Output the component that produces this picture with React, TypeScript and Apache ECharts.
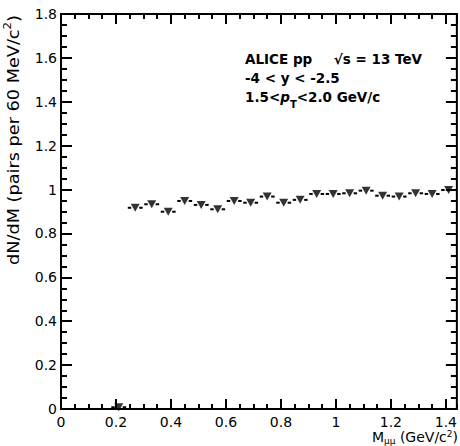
import React, { useEffect, useRef } from "react";
import * as echarts from "echarts";

// Dimuon invariant-mass bin centres (GeV/c^2), 60 MeV wide bins
const massBins = [
  0.21, 0.27, 0.33, 0.39, 0.45, 0.51, 0.57, 0.63, 0.69, 0.75, 0.81,
  0.87, 0.93, 0.99, 1.05, 1.11, 1.17, 1.23, 1.29, 1.35, 1.41,
];
// dN/dM in each bin
const dNdM = [
  0.008, 0.917, 0.933, 0.899, 0.948, 0.93, 0.91, 0.948, 0.94, 0.968, 0.94,
  0.953, 0.98, 0.98, 0.983, 0.995, 0.972, 0.968, 0.983, 0.98, 0.998,
];
const halfBinWidth = 0.03;

const xRange = [0, 1.44];
const yRange = [0, 1.8];
const majorStep = 0.2;
const minorStep = 0.05;

const FONT = '"DejaVu Sans", "Liberation Sans", Arial, sans-serif';

export default function App() {
  const ref = useRef<HTMLDivElement>(null);

  useEffect(() => {
    if (!ref.current) return;
    const chart = echarts.init(ref.current, null, { renderer: "svg" });

    const points = massBins.map((m, i) => [m, dNdM[i]]);

    const tickAxis = (
      dim: "x" | "y",
      position: string,
      interval: number,
      length: number,
      labels: boolean
    ) => {
      const range = dim === "x" ? xRange : yRange;
      return {
        type: "value",
        position,
        min: range[0],
        max: range[1],
        interval,
        axisLine: { show: false, onZero: false },
        axisTick: {
          show: true,
          inside: true,
          length,
          lineStyle: { color: "#000", width: 2 },
        },
        splitLine: { show: false },
        axisLabel: {
          show: labels,
          color: "#000",
          fontFamily: FONT,
          fontSize: 14,
          lineHeight: 14,
          margin: dim === "x" ? 6 : 4,
          showMaxLabel: dim === "x" ? false : true,
        },
      };
    };

    const boldText = (text: string, x: number, y: number, align = "left") => ({
      type: "text",
      x,
      y,
      style: {
        text,
        fontFamily: FONT,
        fontWeight: "bold",
        fontSize: 13.5,
        fill: "#000",
        align,
        verticalAlign: "middle",
      },
    });

    chart.setOption({
      animation: false,
      backgroundColor: "#fff",
      grid: {
        left: 61,
        top: 14,
        right: 2,
        bottom: 37,
        show: true,
        borderColor: "#000",
        borderWidth: 2,
        backgroundColor: "transparent",
      },
      xAxis: [
        tickAxis("x", "bottom", majorStep, 10, true),
        tickAxis("x", "bottom", minorStep, 5, false),
        tickAxis("x", "top", majorStep, 10, false),
        tickAxis("x", "top", minorStep, 5, false),
      ],
      yAxis: [
        tickAxis("y", "left", majorStep, 11, true),
        tickAxis("y", "left", minorStep, 6, false),
        tickAxis("y", "right", majorStep, 11, false),
        tickAxis("y", "right", minorStep, 6, false),
      ],
      graphic: [
        {
          type: "text",
          x: 12,
          y: 15,
          rotation: Math.PI / 2,
          scaleX: 1.18,
          style: {
            text: "{t|dN/dM (pairs per 60 MeV/c}{s|2}{t|)}",
            align: "right",
            verticalAlign: "middle",
            fill: "#000",
            rich: {
              t: { fontFamily: FONT, fontSize: 15, lineHeight: 18, verticalAlign: "bottom" },
              s: { fontFamily: FONT, fontSize: 10, lineHeight: 18, verticalAlign: "top" },
            },
          },
        },
        {
          type: "text",
          x: 458,
          y: 437,
          style: {
            text: "{t|M}{s|μμ}{t| (GeV/c}{p|2}{t|)}",
            align: "right",
            verticalAlign: "middle",
            fill: "#000",
            rich: {
              t: { fontFamily: FONT, fontSize: 14, lineHeight: 16, verticalAlign: "middle" },
              s: { fontFamily: FONT, fontSize: 9, lineHeight: 16, verticalAlign: "bottom" },
              p: { fontFamily: FONT, fontSize: 9, lineHeight: 16, verticalAlign: "top" },
            },
          },
        },
        boldText("ALICE pp", 245, 59),
        boldText("√s = 13 TeV", 422, 59, "right"),
        boldText("-4 < y < -2.5", 245, 78),
        {
          type: "text",
          x: 245,
          y: 97,
          style: {
            text: "{t|1.5<}{i|p}{s|T}{t|<2.0 GeV/c}",
            verticalAlign: "middle",
            fill: "#000",
            rich: {
              t: { fontFamily: FONT, fontWeight: "bold", fontSize: 13.5, lineHeight: 24, verticalAlign: "middle" },
              i: { fontFamily: FONT, fontWeight: "bold", fontStyle: "italic", fontSize: 13.5, lineHeight: 24, verticalAlign: "middle" },
              s: { fontFamily: FONT, fontWeight: "bold", fontSize: 10, lineHeight: 24, verticalAlign: "bottom" },
            },
          },
        },
      ],
      series: [
        {
          type: "custom",
          xAxisIndex: 0,
          yAxisIndex: 0,
          data: points,
          clip: false,
          renderItem: (params: any, api: any) => {
            const x = api.value(0);
            const y = api.value(1);
            const c = api.coord([x, y]);
            const lo = api.coord([x - halfBinWidth, y]);
            const hi = api.coord([x + halfBinWidth, y]);
            const gap = 4;
            const style = { stroke: "#000", lineWidth: 2 };
            return {
              type: "group",
              children: [
                { type: "line", shape: { x1: lo[0] + 0.8, y1: c[1], x2: c[0] - gap, y2: c[1] }, style },
                { type: "line", shape: { x1: c[0] + gap, y1: c[1], x2: hi[0] - 0.8, y2: c[1] }, style },
              ],
            };
          },
        },
        {
          type: "scatter",
          xAxisIndex: 0,
          yAxisIndex: 0,
          data: points,
          symbol: "triangle",
          symbolRotate: 180,
          symbolSize: [9, 8],
          itemStyle: { color: "#000" },
          clip: false,
        },
      ],
    });

    return () => chart.dispose();
  }, []);

  return (
    <div
      ref={ref}
      style={{ position: "fixed", left: 0, top: 0, width: 460, height: 446, background: "#fff" }}
    />
  );
}
